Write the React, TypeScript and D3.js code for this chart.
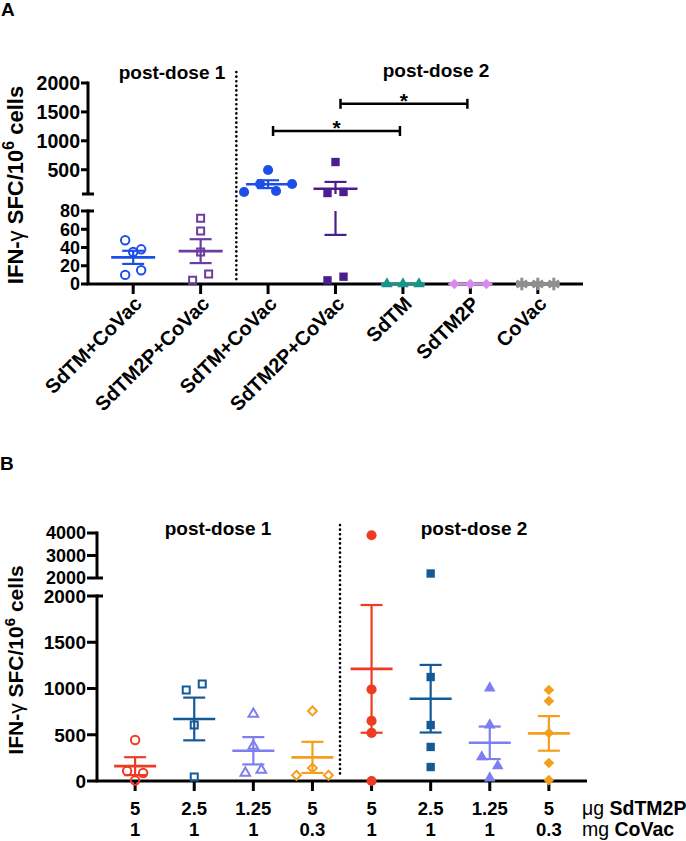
import * as d3 from "d3";
import React from "react";

// panel A, IFN-γ SFC / 10^6 cells
const aCategories = ["SdTM+CoVac", "SdTM2P+CoVac", "SdTM+CoVac", "SdTM2P+CoVac", "SdTM", "SdTM2P", "CoVac"];
const aSdTMCoVacDose1 = [48, 35, 38, 10, 15];
const aSdTM2PCoVacDose1 = [72, 58, 35, 4, 11];
const aSdTMCoVacDose2 = [495, 115, 253, 132, 253];
const aSdTM2PCoVacDose2 = [633, 97, 115, 4, 8];
const aSdTMDose2 = [0, 0, 0];
const aSdTM2PDose2 = [0, 0, 0];
const aCoVacDose2 = [0, 0, 0];
const aLowerTicks = [0, 20, 40, 60, 80];
const aUpperTicks = [500, 1000, 1500, 2000];
const aBreak = 80;
const aMax = 2000;
// [group, group, bracket height in SFC]
const aComparisons = [
  [2, 4, 1170],
  [3, 5, 1640],
];

// panel B, dose titration
const bSdTM2P = ["5", "2.5", "1.25", "5", "5", "2.5", "1.25", "5"];
const bCoVac = ["1", "1", "1", "0.3", "1", "1", "1", "0.3"];
const b5u1mDose1 = [443, 108, 86, 5];
const b25u1mDose1 = [985, 1049, 605, 43];
const b125u1mDose1 = [724, 378, 86, 119];
const b5u03mDose1 = [757, 62, 140, 62];
const b5u1mDose2 = [3900, 990, 650, 520, 0];
const b25u1mDose2 = [2200, 1124, 605, 368, 151];
const b125u1mDose2 = [1005, 605, 260, 162, 32];
const b5u03mDose2 = [984, 865, 519, 195, 10];
const bLowerTicks = [0, 500, 1000, 1500, 2000];
const bUpperTicks = [2000, 3000, 4000];
const bBreak = 2000;
const bMax = 4000;

const FONT = "'Liberation Sans', Arial, Helvetica, sans-serif";

const symbolTypes: Record<string, any> = {
  circle: d3.symbolCircle,
  square: d3.symbolSquare,
  triangle: d3.symbolTriangle,
  diamond: (d3 as any).symbolDiamond2 ?? d3.symbolDiamond,
  asterisk: (d3 as any).symbolAsterisk ?? d3.symbolCross,
};

const symbolSizes: Record<string, number> = {
  circle: 80,
  square: 70,
  triangle: 58,
  diamond: 72,
  asterisk: 110,
};

type Group = { values: number[]; color: string; shape: string; open: boolean };

const groupsA: Group[] = [
  { values: aSdTMCoVacDose1, color: "#1d4fe6", shape: "circle", open: true },
  { values: aSdTM2PCoVacDose1, color: "#6a3d9e", shape: "square", open: true },
  { values: aSdTMCoVacDose2, color: "#1d4fe6", shape: "circle", open: false },
  { values: aSdTM2PCoVacDose2, color: "#4b1d8e", shape: "square", open: false },
  { values: aSdTMDose2, color: "#16958f", shape: "triangle", open: false },
  { values: aSdTM2PDose2, color: "#d98af0", shape: "diamond", open: false },
  { values: aCoVacDose2, color: "#8f8f8f", shape: "asterisk", open: false },
];

const groupsB: Group[] = [
  { values: b5u1mDose1, color: "#ef3b23", shape: "circle", open: true },
  { values: b25u1mDose1, color: "#135a96", shape: "square", open: true },
  { values: b125u1mDose1, color: "#7d7ff0", shape: "triangle", open: true },
  { values: b5u03mDose1, color: "#f59e1d", shape: "diamond", open: true },
  { values: b5u1mDose2, color: "#ef3b23", shape: "circle", open: false },
  { values: b25u1mDose2, color: "#135a96", shape: "square", open: false },
  { values: b125u1mDose2, color: "#7d7ff0", shape: "triangle", open: false },
  { values: b5u03mDose2, color: "#f59e1d", shape: "diamond", open: false },
];

// points that sit in the same row are spread sideways, like prism does
function spread(ys: number[], step: number, gap: number) {
  const order = d3.range(ys.length).sort((a, b) => ys[a] - ys[b]);
  const offsets = new Array(ys.length).fill(0);
  let bin: number[] = [];
  const flush = () => {
    const members = bin.slice().sort((a, b) => a - b);
    members.forEach((idx, k) => (offsets[idx] = (k - (members.length - 1) / 2) * step));
    bin = [];
  };
  order.forEach((i) => {
    if (bin.length && ys[i] - ys[bin[0]] >= gap) flush();
    bin.push(i);
  });
  flush();
  return offsets;
}

type Seg = { scale: d3.ScaleLinear<number, number>; ticks: number[]; fontSize: number };

function Scatter(props: {
  groups: Group[];
  x: d3.ScalePoint<number>;
  lower: d3.ScaleLinear<number, number>;
  upper: d3.ScaleLinear<number, number>;
  brk: number;
  meanHalf: number;
  capHalf: number;
}) {
  const { groups, x, lower, upper, brk, meanHalf, capHalf } = props;
  const y = (v: number) => (v <= brk ? lower(v) : upper(v));
  const pieces = (lo: number, hi: number) => {
    const out: number[][] = [];
    if (lo < brk) out.push([lower(lo), lower(Math.min(hi, brk))]);
    if (hi > brk) out.push([upper(Math.max(lo, brk)), upper(hi)]);
    return out;
  };
  return (
    <g>
      {groups.map((g, i) => {
        const cx = x(i)!;
        const mean = d3.mean(g.values)!;
        const sem = (d3.deviation(g.values) ?? 0) / Math.sqrt(g.values.length);
        const lo = mean - sem;
        const hi = mean + sem;
        return (
          <g key={"bar" + i} stroke={g.color} strokeWidth={2.2}>
            {sem > 0 &&
              pieces(lo, hi).map((p, k) => <line key={k} x1={cx} x2={cx} y1={p[0]} y2={p[1]} />)}
            {sem > 0 && <line x1={cx - capHalf} x2={cx + capHalf} y1={y(lo)} y2={y(lo)} />}
            {sem > 0 && <line x1={cx - capHalf} x2={cx + capHalf} y1={y(hi)} y2={y(hi)} />}
            <line x1={cx - meanHalf} x2={cx + meanHalf} y1={y(mean)} y2={y(mean)} strokeWidth={2.6} />
          </g>
        );
      })}
      {groups.map((g, i) => {
        const cx = x(i)!;
        const ys = g.values.map(y);
        const offs = spread(ys, 16, 9.5);
        const open = g.open;
        const sym = d3
          .symbol()
          .type(symbolTypes[g.shape])
          .size(symbolSizes[g.shape] * (open ? 0.7 : 1))();
        return (
          <g key={"pts" + i}>
            {ys.map((yy, k) => (
              <path
                key={k}
                d={sym!}
                transform={`translate(${cx + offs[k]},${yy})`}
                fill={open || g.shape === "asterisk" ? "none" : g.color}
                stroke={g.color}
                strokeWidth={g.shape === "asterisk" ? 3 : open ? 2 : 0}
              />
            ))}
          </g>
        );
      })}
    </g>
  );
}

function YAxis(props: { axisX: number; segs: Seg[]; tickLen: number; brk: number }) {
  const { axisX, segs, tickLen, brk } = props;
  return (
    <g stroke="#000" strokeWidth={3}>
      {segs.map((s, si) => {
        const [d0, d1] = s.scale.domain();
        return (
          <g key={si}>
            <line x1={axisX} x2={axisX} y1={s.scale(d0)} y2={s.scale(d1) - 1.5} />
            {s.ticks.map((t) => (
              <g key={t}>
                <line
                  x1={axisX - tickLen}
                  x2={t === brk ? axisX + 6 : axisX}
                  y1={s.scale(t)}
                  y2={s.scale(t)}
                />
                <text
                  x={axisX - tickLen - 1}
                  y={s.scale(t)}
                  dy="0.36em"
                  textAnchor="end"
                  stroke="none"
                  fill="#000"
                  fontSize={s.fontSize}
                  fontWeight="bold"
                  fontFamily={FONT}
                >
                  {t}
                </text>
              </g>
            ))}
            {!s.ticks.includes(brk) && (
              <line x1={axisX - 6} x2={axisX + 6} y1={s.scale(brk)} y2={s.scale(brk)} />
            )}
          </g>
        );
      })}
    </g>
  );
}

function YLabel(props: { x: number; y: number; size: number }) {
  return (
    <text
      transform={`translate(${props.x},${props.y}) rotate(-90)`}
      textAnchor="middle"
      fontSize={props.size}
      fontWeight="bold"
      fontFamily={FONT}
    >
      IFN-<tspan fontWeight="normal">γ</tspan> SFC/10
      <tspan dy={-props.size * 0.4} fontSize={props.size * 0.72}>
        6
      </tspan>
      <tspan dy={props.size * 0.4}> cells</tspan>
    </text>
  );
}

function Dotted(props: { x: number; y1: number; y2: number }) {
  return (
    <line
      x1={props.x}
      x2={props.x}
      y1={props.y1}
      y2={props.y2}
      stroke="#000"
      strokeWidth={2.6}
      strokeLinecap="round"
      strokeDasharray="0.1 4.5"
    />
  );
}

export default function App() {
  // panel A geometry
  const axAX = 88;
  const axAY = 284;
  const xA = d3
    .scalePoint<number>()
    .domain(d3.range(aCategories.length))
    .range([axAX, 583])
    .padding(0.67);
  const lowerA = d3.scaleLinear().domain([0, aBreak]).range([axAY, 211]);
  const upperA = d3.scaleLinear().domain([aBreak, aMax]).range([194, 83]);
  const sepA = (xA(1)! + xA(2)!) / 2 + 2;

  // panel B geometry
  const axBX = 97;
  const axBY = 781;
  const xB = d3
    .scalePoint<number>()
    .domain(d3.range(bSdTM2P.length))
    .range([axBX, 587])
    .padding(0.645);
  const lowerB = d3.scaleLinear().domain([0, bBreak]).range([axBY, 596]);
  const upperB = d3.scaleLinear().domain([bBreak, bMax]).range([578, 533]);
  const sepB = (xB(3)! + xB(4)!) / 2 - 2;

  const bold = { fontFamily: FONT, fontWeight: "bold" as const };

  return (
    <svg
      width={686}
      height={841}
      viewBox="0 0 686 841"
      style={{ position: "absolute", left: 0, top: 0, background: "#fff" }}
    >
      {/* ---------- A ---------- */}
      <text x={1} y={16} fontSize={19} {...bold}>
        A
      </text>
      <text x={172} y={79} fontSize={19} textAnchor="middle" {...bold}>
        post-dose 1
      </text>
      <text x={436} y={77} fontSize={19} textAnchor="middle" {...bold}>
        post-dose 2
      </text>
      <YLabel x={23} y={185} size={22} />
      <YAxis
        axisX={axAX}
        tickLen={7}
        brk={aBreak}
        segs={[
          { scale: upperA, ticks: aUpperTicks, fontSize: 19.5 },
          { scale: lowerA, ticks: aLowerTicks, fontSize: 18 },
        ]}
      />
      <Dotted x={sepA} y1={72} y2={axAY - 3} />
      <g stroke="#000" strokeWidth={3}>
        <line x1={axAX - 1.5} x2={583} y1={axAY} y2={axAY} />
        {aCategories.map((_, i) => (
          <line key={i} x1={xA(i)} x2={xA(i)} y1={axAY} y2={axAY + 10} />
        ))}
      </g>
      {aCategories.map((c, i) => (
        <text
          key={i}
          transform={`translate(${xA(i)! + 10},${axAY + 21}) rotate(-45)`}
          textAnchor="end"
          fontSize={20}
          {...bold}
        >
          {c}
        </text>
      ))}
      <Scatter
        groups={groupsA}
        x={xA}
        lower={lowerA}
        upper={upperA}
        brk={aBreak}
        meanHalf={22}
        capHalf={11}
      />
      {aComparisons.map(([i, j, v], k) => {
        const yy = upperA(v);
        return (
          <g key={k}>
            <g stroke="#000" strokeWidth={2.5}>
              <line x1={xA(i)! + 5} x2={xA(j)! - 3} y1={yy} y2={yy} />
              <line x1={xA(i)! + 5} x2={xA(i)! + 5} y1={yy - 5} y2={yy + 5} />
              <line x1={xA(j)! - 3} x2={xA(j)! - 3} y1={yy - 5} y2={yy + 5} />
            </g>
            <text x={(xA(i)! + xA(j)!) / 2 + 1} y={yy + 4} fontSize={21} textAnchor="middle" {...bold}>
              *
            </text>
          </g>
        );
      })}

      {/* ---------- B ---------- */}
      <text x={0} y={470} fontSize={19} {...bold}>
        B
      </text>
      <text x={218} y={535} fontSize={19} textAnchor="middle" {...bold}>
        post-dose 1
      </text>
      <text x={474} y={535} fontSize={19} textAnchor="middle" {...bold}>
        post-dose 2
      </text>
      <YLabel x={23} y={660} size={21} />
      <YAxis
        axisX={axBX}
        tickLen={10}
        brk={bBreak}
        segs={[
          { scale: upperB, ticks: bUpperTicks, fontSize: 18 },
          { scale: lowerB, ticks: bLowerTicks, fontSize: 19 },
        ]}
      />
      <Dotted x={sepB} y1={525} y2={axBY - 3} />
      <g stroke="#000" strokeWidth={3}>
        <line x1={axBX - 1.5} x2={587} y1={axBY} y2={axBY} />
        {bSdTM2P.map((_, i) => (
          <line key={i} x1={xB(i)} x2={xB(i)} y1={axBY} y2={axBY + 10} />
        ))}
      </g>
      <Scatter
        groups={groupsB}
        x={xB}
        lower={lowerB}
        upper={upperB}
        brk={bBreak}
        meanHalf={21}
        capHalf={11}
      />
      {bSdTM2P.map((t, i) => (
        <text key={"u" + i} x={xB(i)} y={815} fontSize={18.5} textAnchor="middle" {...bold}>
          {t}
        </text>
      ))}
      {bCoVac.map((t, i) => (
        <text key={"m" + i} x={xB(i)} y={836} fontSize={18.5} textAnchor="middle" {...bold}>
          {t}
        </text>
      ))}
      <text x={582} y={815} fontSize={19.5} fontFamily={FONT}>
        μg <tspan fontWeight="bold">SdTM2P</tspan>
      </text>
      <text x={582} y={836} fontSize={19.5} fontFamily={FONT}>
        mg <tspan fontWeight="bold">CoVac</tspan>
      </text>
    </svg>
  );
}
